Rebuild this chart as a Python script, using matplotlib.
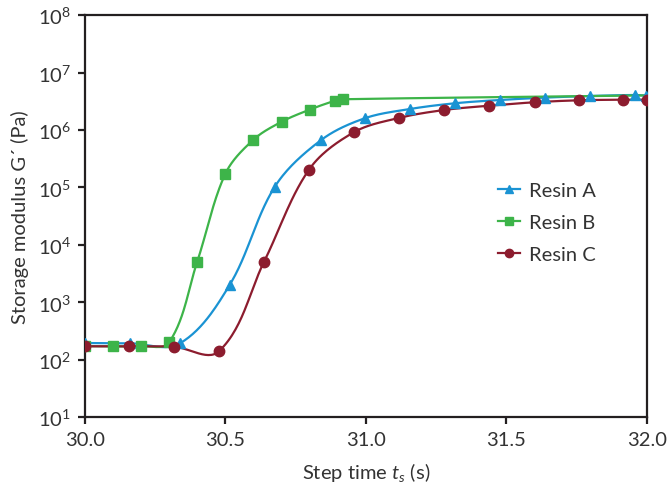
import numpy as np
import matplotlib
matplotlib.use('Agg')
import matplotlib.pyplot as plt

FONT = 'Lato'
plt.rcParams['font.family'] = [FONT, 'DejaVu Sans']
plt.rcParams['mathtext.fontset'] = 'custom'
plt.rcParams['mathtext.rm'] = FONT
plt.rcParams['mathtext.it'] = FONT + ':italic'

TEXT = '#333333'
AXIS = '#231f20'

# Resin A (blue triangles)
time_a = [30.0, 30.16, 30.338, 30.516, 30.676, 30.84, 30.996, 31.157,
          31.317, 31.477, 31.637, 31.797, 31.957, 31.996]
g_a = [195, 193, 192, 2030, 1.03e5, 6.64e5, 1.60e6, 2.32e6,
       2.92e6, 3.33e6, 3.66e6, 3.91e6, 4.07e6, 3.96e6]

# Resin B (green squares); last value only carries the line to the edge
time_b = [30.0, 30.10, 30.20, 30.30, 30.40, 30.50, 30.60, 30.70,
          30.80, 30.89, 30.92, 32.0]
g_b = [172, 171, 171, 200, 5120, 1.73e5, 6.78e5, 1.39e6,
       2.26e6, 3.23e6, 3.43e6, 4.0e6]

# Resin C (dark red circles)
time_c = [30.0, 30.158, 30.317, 30.477, 30.638, 30.798, 30.957, 31.117,
          31.279, 31.439, 31.601, 31.759, 31.916, 31.999]
g_c = [171, 171, 168, 140, 5120, 2.05e5, 9.12e5, 1.62e6,
       2.23e6, 2.65e6, 3.04e6, 3.29e6, 3.37e6, 3.37e6]

XLIM = (30.0, 32.0)
YLIM = (1e1, 1e8)


def smooth(x, y, n=30):
    # smooth bezier line through the points, done in screen-like coordinates
    x = np.asarray(x, float)
    ly = np.log10(np.asarray(y, float))
    sx = 562 / (XLIM[1] - XLIM[0])
    sy = 402 / 7.0
    P = np.column_stack([(x - XLIM[0]) * sx, ly * sy])
    Q = np.vstack([P[0], P, P[-1]])
    d = Q[2:] - Q[:-2]
    tang = d / np.linalg.norm(d, axis=1)[:, None]
    out = []
    t = np.linspace(0, 1, n)[:, None]
    for i in range(len(P) - 1):
        p0, p3 = P[i], P[i + 1]
        L = np.linalg.norm(p3 - p0) / 3
        c1 = p0 + tang[i] * L
        c2 = p3 - tang[i + 1] * L
        seg = ((1 - t) ** 3 * p0 + 3 * (1 - t) ** 2 * t * c1
               + 3 * (1 - t) * t ** 2 * c2 + t ** 3 * p3)
        out.append(seg)
    out = np.vstack(out)
    return out[:, 0] / sx + XLIM[0], 10 ** (out[:, 1] / sy)


fig = plt.figure(figsize=(6.68, 4.89), dpi=100)
ax = fig.add_axes([0.127, 0.145, 0.8415, 0.822])

series = [
    ('Resin A', time_a, g_a, '#1a93d3', '^', 7, len(time_a)),
    ('Resin B', time_b, g_b, '#3db449', 's', 6.5, len(time_b) - 1),
    ('Resin C', time_c, g_c, '#8c1c2e', 'o', 7.5, len(time_c)),
]

for label, t, g, col, mk, ms, nmark in series:
    sx, sy = smooth(t, g)
    ax.plot(sx, sy, color=col, lw=1.6, zorder=2)
    ax.plot(t[:nmark], g[:nmark], ls='none', marker=mk, ms=ms, color=col,
            mec=col, zorder=3)
    ax.plot([], [], color=col, lw=1.6, marker=mk, ms=ms * 0.8, label=label)

ax.set_yscale('log')
ax.set_xlim(*XLIM)
ax.set_ylim(*YLIM)
ax.set_xticks([30.0, 30.5, 31.0, 31.5, 32.0])
ax.set_xticklabels(['30.0', '30.5', '31.0', '31.5', '32.0'])
ax.minorticks_off()

for s in ax.spines.values():
    s.set_color(AXIS)
    s.set_linewidth(1.6)

ax.tick_params(direction='out', length=5, width=1.6, color=AXIS,
               labelsize=14.5, labelcolor=TEXT, pad=5)

ax.set_xlabel('Step time $t_s$ (s)', fontsize=14.5, color=TEXT, labelpad=9)
ax.set_ylabel('Storage modulus G\u00b4 (Pa)', fontsize=14.5, color=TEXT, labelpad=6)

ax.legend(loc='upper left', bbox_to_anchor=(0.702, 0.63), frameon=False,
          fontsize=14.5, handlelength=1.1, handletextpad=0.45, labelspacing=0.75,
          labelcolor=TEXT)

fig.savefig('out.png', dpi=100)
